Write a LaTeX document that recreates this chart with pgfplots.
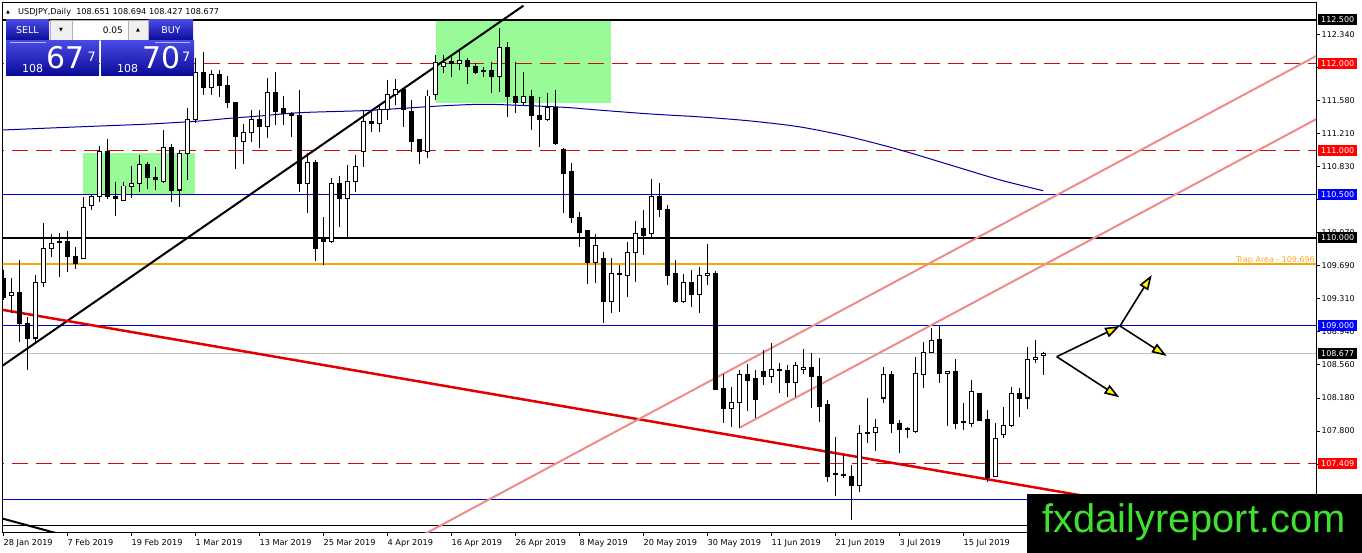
\documentclass[border=0pt]{standalone}
\usepackage{pgfplots}
\pgfplotsset{compat=1.18}
\usepackage{pgfplotstable}
\usetikzlibrary{arrows.meta}
\usepackage{fontspec}
\setmainfont{DejaVu Sans}
\newfontfamily\libsans{Liberation Sans}
\definecolor{mtblue}{RGB}{0,0,205}
\definecolor{mablue}{RGB}{0,0,160}
\definecolor{mtorange}{RGB}{255,165,0}
\definecolor{mtgreen}{RGB}{152,251,152}
\definecolor{mtpink}{RGB}{238,140,140}
\definecolor{mtred}{RGB}{225,0,0}
\definecolor{mtdash}{RGB}{215,10,10}
\definecolor{mtgray}{RGB}{192,192,192}
\definecolor{boxred}{RGB}{255,0,0}
\definecolor{boxblue}{RGB}{0,0,255}
\definecolor{pbtop}{RGB}{72,72,228}
\definecolor{pbbot}{RGB}{10,10,150}
\definecolor{wmgreen}{RGB}{64,224,48}
\definecolor{traporange}{RGB}{245,170,40}

\pgfplotstableread{
i o h l c
0 109.541 109.633 109.289 109.323
1 109.335 109.541 109.140 109.380
2 109.380 109.747 108.807 109.025
3 109.025 109.094 108.486 108.853
4 108.853 109.575 108.807 109.484
5 109.484 110.172 109.438 109.874
6 109.874 110.046 109.782 109.942
7 109.950 110.057 109.552 109.958
8 109.965 110.080 109.610 109.782
9 109.793 109.896 109.644 109.713
10 109.770 110.470 109.759 110.355
11 110.367 110.493 110.321 110.470
12 110.470 111.055 110.413 110.986
13 110.986 111.135 110.447 110.470
14 110.470 110.642 110.252 110.447
15 110.435 110.642 110.424 110.596
16 110.585 110.825 110.458 110.619
17 110.619 110.952 110.527 110.837
18 110.837 110.871 110.562 110.688
19 110.688 110.814 110.550 110.665
20 110.642 111.238 110.630 111.043
21 111.043 111.078 110.413 110.550
22 110.550 111.009 110.355 110.974
23 110.974 111.491 110.665 111.364
24 111.364 112.064 111.318 111.892
25 111.892 112.133 111.640 111.731
26 111.731 111.926 111.640 111.869
27 111.869 111.926 111.617 111.754
28 111.754 111.857 111.491 111.548
29 111.548 111.559 110.791 111.158
30 111.101 111.307 110.848 111.215
31 111.215 111.468 111.101 111.353
32 111.353 111.468 111.032 111.273
33 111.273 111.835 111.146 111.663
34 111.663 111.903 111.296 111.456
35 111.479 111.628 111.296 111.433
36 111.433 111.445 111.158 111.399
37 111.410 111.697 110.527 110.630
38 110.630 110.974 110.286 110.860
39 110.860 110.894 109.736 109.885
40 110.000 110.240 109.690 109.965
41 109.965 110.688 109.942 110.630
42 110.619 110.711 110.126 110.458
43 110.458 110.837 110.000 110.642
44 110.642 110.952 110.527 110.825
45 110.997 111.456 110.814 111.341
46 111.330 111.468 111.215 111.307
47 111.307 111.525 111.215 111.468
48 111.468 111.812 111.353 111.640
49 111.640 111.823 111.525 111.697
50 111.697 111.720 111.273 111.468
51 111.456 111.582 110.986 111.112
52 111.124 111.130 110.848 110.997
53 110.997 111.697 110.917 111.628
54 111.640 112.098 111.582 112.007
55 111.961 112.098 111.892 112.007
56 112.018 112.098 111.846 111.995
57 111.995 112.167 111.926 112.030
58 112.030 112.064 111.766 111.972
59 111.972 112.007 111.880 111.892
60 111.915 111.961 111.846 111.908
61 111.926 112.018 111.663 111.846
62 111.846 112.408 111.674 112.179
63 112.179 112.247 111.387 111.617
64 111.617 112.018 111.433 111.548
65 111.548 111.903 111.525 111.617
66 111.617 111.697 111.238 111.399
67 111.410 111.617 111.043 111.364
68 111.364 111.663 111.341 111.491
69 111.491 111.697 111.066 111.078
70 111.020 111.026 110.286 110.745
71 110.757 110.860 110.172 110.240
72 110.240 110.298 109.896 110.068
73 110.080 110.091 109.472 109.724
74 109.724 110.046 109.484 109.908
75 109.759 109.839 109.025 109.277
76 109.277 109.770 109.140 109.587
77 109.590 109.690 109.151 109.583
78 109.564 109.954 109.323 109.828
79 109.828 110.195 109.495 110.046
80 110.114 110.321 109.805 110.034
81 110.046 110.676 110.011 110.481
82 110.481 110.630 110.240 110.332
83 110.332 110.378 109.461 109.575
84 109.587 109.747 109.254 109.266
85 109.266 109.587 109.254 109.484
86 109.495 109.633 109.208 109.357
87 109.357 109.667 109.140 109.564
88 109.564 109.931 109.461 109.598
89 109.598 109.621 108.257 108.268
90 108.279 108.440 107.878 108.039
91 108.039 108.291 107.832 108.119
92 108.119 108.486 107.821 108.440
93 108.440 108.555 108.016 108.371
94 108.383 108.486 107.935 108.153
95 108.474 108.715 108.314 108.417
96 108.417 108.796 108.337 108.497
97 108.490 108.566 108.222 108.482
98 108.486 108.543 108.176 108.348
99 108.348 108.578 108.176 108.543
100 108.497 108.727 108.440 108.520
101 108.520 108.681 108.050 108.417
102 108.417 108.624 107.890 108.073
103 108.085 108.142 107.201 107.270
104 107.296 107.718 107.041 107.290
105 107.285 107.511 107.247 107.278
106 107.270 107.396 106.766 107.156
107 107.156 107.855 107.087 107.763
108 107.766 108.165 107.649 107.758
109 107.775 107.924 107.557 107.832
110 108.165 108.520 108.107 108.429
111 108.429 108.474 107.763 107.878
112 107.878 107.912 107.534 107.809
113 107.812 107.832 107.706 107.806
114 107.786 108.635 107.763 108.451
115 108.440 108.807 108.279 108.692
116 108.692 108.968 108.681 108.830
117 108.841 108.990 108.337 108.451
118 108.451 108.480 107.844 108.474
119 108.474 108.612 107.809 107.878
120 107.893 108.107 107.798 107.886
121 107.878 108.371 107.832 108.234
122 108.222 108.228 107.905 107.912
123 107.924 108.027 107.201 107.259
124 107.270 107.878 107.265 107.695
125 107.752 108.062 107.706 107.844
126 107.844 108.291 107.832 108.211
127 108.211 108.279 107.947 108.165
128 108.165 108.750 108.039 108.612
129 108.612 108.830 108.566 108.635
130 108.651 108.694 108.427 108.677
}\candles

\begin{document}
\begin{tikzpicture}[x=1bp,y=1bp]
\path[use as bounding box] (0,0) rectangle (1362,553);
\begin{axis}[
  at={(2.7bp,20.7bp)}, anchor=south west,
  width=1313.3bp, height=529.6bp, scale only axis,
  xmin=-0.1, xmax=164.065, ymin=106.625, ymax=112.698,
  axis line style={black, line width=1bp},
  clip mode=individual,
  tick align=outside, major tick length=3.5bp,
  every tick/.style={black, line width=0.8bp},
  xtick pos=bottom, ytick pos=right, yticklabel pos=right,
  xtick={0,8,...,120},
  xticklabels={28 Jan 2019,7 Feb 2019,19 Feb 2019,1 Mar 2019,13 Mar 2019,25 Mar 2019,4 Apr 2019,16 Apr 2019,26 Apr 2019,8 May 2019,20 May 2019,30 May 2019,11 Jun 2019,21 Jun 2019,3 Jul 2019,15 Jul 2019},
  ytick={112.336,111.956,111.578,111.198,110.820,110.440,110.061,109.682,109.303,108.924,108.545,108.166,107.787,107.407,107.029},
  yticklabels={112.340,,111.580,111.210,110.830,,110.070,109.690,109.310,108.940,108.560,108.180,107.800,107.420,},
  x tick label style={anchor=north west, inner sep=0pt, yshift=-3bp, font=\fontsize{8.2}{9}\selectfont},
  y tick label style={anchor=west, inner sep=0pt, xshift=2bp, font=\fontsize{8}{9}\selectfont},
]
% green zones
\addplot[fill=mtgreen, draw=none, forget plot] coordinates {(10,110.505) (23.9,110.505) (23.9,110.971) (10,110.971)} -- cycle;
\addplot[fill=mtgreen, draw=none, forget plot] coordinates {(54,111.545) (75.96,111.545) (75.96,112.49) (54,112.49)} -- cycle;
% horizontal levels
\addplot[black, line width=2bp, forget plot] coordinates {(-2,112.5) (170,112.5)};
\addplot[mtdash, line width=1.1bp, dash pattern=on 16bp off 8bp, forget plot] coordinates {(-2,112.0011) (170,112.0011)};
\addplot[mtdash, line width=1.1bp, dash pattern=on 16bp off 8bp, forget plot] coordinates {(-2,111.0034) (170,111.0034)};
\addplot[mtblue, line width=1bp, forget plot] coordinates {(-2,110.4989) (170,110.4989)};
\addplot[black, line width=2bp, forget plot] coordinates {(-2,110.0) (170,110.0)};
\addplot[mtorange, line width=2bp, forget plot] coordinates {(-2,109.696) (170,109.696)};
\addplot[mtblue, line width=1bp, forget plot] coordinates {(-2,108.9966) (170,108.9966)};
\addplot[mtgray, line width=1bp, forget plot] coordinates {(-2,108.6759) (170,108.6759)};
\addplot[mtdash, line width=1.1bp, dash pattern=on 16bp off 8bp, forget plot] coordinates {(-2,107.4136) (170,107.4136)};
\addplot[mtblue, line width=1bp, forget plot] coordinates {(-2,107.0011) (170,107.0011)};
\addplot[black, line width=1bp, forget plot] coordinates {(-2,106.703) (170,106.703)};
% trend lines
\addplot[black, line width=2bp, forget plot] coordinates {(-1,108.480) (65,112.664)};
\addplot[black, line width=2bp, forget plot] coordinates {(-1,106.804) (10,106.531)};
\addplot[mtred, line width=2.5bp, forget plot] coordinates {(-1,109.190) (137,107.012)};
\addplot[mtpink, line width=2bp, forget plot] coordinates {(52,106.574) (165,112.132)};
\addplot[mtpink, line width=2bp, forget plot] coordinates {(92,107.824) (165,111.407)};
% moving average
\addplot[mablue, line width=1bp, smooth, forget plot] coordinates {
(-0.1,111.238) (5.84,111.261) (12.09,111.284) (18.34,111.307) (24.59,111.342)
(28.34,111.373) (32.09,111.399) (37.09,111.437) (44.96,111.460) (49.59,111.485)
(54.59,111.514) (59.59,111.533) (63.34,111.525) (69.96,111.499) (74.21,111.468)
(80.84,111.422) (87.09,111.388) (93.34,111.342) (99.59,111.273) (105.84,111.158)
(112.09,111.009) (118.34,110.837) (124.59,110.665) (129.96,110.542)};
% candles: wicks
\addplot[draw=none, forget plot, error bars/.cd, y dir=minus, y explicit, error mark=none,
  error bar style={draw=black, solid, line width=1bp}]
  table[x=i, y=h, y error minus expr={\thisrow{h}-\thisrow{l}}] {\candles};
% bodies (outline)
\addplot[draw=none, forget plot, error bars/.cd, y dir=minus, y explicit, error mark=none,
  error bar style={draw=black, solid, line width=5bp}]
  table[x=i, y expr={max(\thisrow{o},\thisrow{c})+0.0057}, y error minus expr={abs(\thisrow{o}-\thisrow{c})+0.0115}] {\candles};
% bodies (white interior of bull candles)
\addplot[draw=none, forget plot, error bars/.cd, y dir=minus, y explicit, error mark=none,
  error bar style={draw=white, solid, line width=3bp}]
  table[x=i, y expr={max(\thisrow{o},\thisrow{c})-0.0057}, y error minus expr={max(\thisrow{c}-\thisrow{o}-0.0115,0)}] {\candles};
\end{axis}

% trap area label
\node[anchor=base east, inner sep=0pt, text=traporange, font=\fontsize{8}{9}\selectfont] at (1315,290.5) {Trap Area - 109.696};

% arrows
\begin{scope}[line width=1.6bp, draw=black]
\draw[-{Triangle[length=15bp,width=10bp,fill=yellow]}] (1056.7,196.3) -- (1120,227);
\draw[-{Triangle[length=15bp,width=10bp,fill=yellow]}] (1120,227) -- (1151.7,278);
\draw[-{Triangle[length=15bp,width=10bp,fill=yellow]}] (1120,227) -- (1166.7,197);
\draw[-{Triangle[length=15bp,width=10bp,fill=yellow]}] (1056.7,196.3) -- (1119.3,155.7);
\end{scope}

% right price boxes
\tikzset{pbox/.style={anchor=west, inner sep=0pt, minimum height=11bp, minimum width=39bp, text=white, font=\fontsize{8}{9}\selectfont}}
\node[pbox, fill=black] at (1318,533) {112.500};
\node[pbox, fill=boxred] at (1318,489.4) {112.000};
\node[pbox, fill=boxred] at (1318,402.2) {111.000};
\node[pbox, fill=boxblue] at (1318,358.6) {110.500};
\node[pbox, fill=black] at (1318,315) {110.000};
\node[pbox, fill=boxblue] at (1318,227.8) {109.000};
\node[pbox, fill=black] at (1318,199.6) {108.677};
\node[pbox, fill=boxred] at (1318,89.1) {107.409};

% watermark
\fill[black] (1027,0) rectangle (1362,59);
\node[anchor=base west, inner sep=0pt, text=wmgreen, font=\libsans\fontsize{40}{40}\selectfont] at (1042,20) {fxdailyreport.com};

% header text
\node[inner sep=0pt, font=\fontsize{5}{6}\selectfont] at (8,541) {▲};
\node[anchor=base west, inner sep=0pt, font=\fontsize{8.2}{9}\selectfont] at (18,538) {USDJPY,Daily\ \ 108.651 108.694 108.427 108.677};

% trading panel
\shade[top color=pbtop, bottom color=pbbot] (6,512) rectangle (49,533);
\node[text=white, inner sep=0pt, font=\fontsize{9.5}{11}\selectfont] at (27.5,522.5) {SELL};
\draw[fill=gray!12, draw=gray!60] (50,512.5) rectangle (72,532.5);
\node[inner sep=0pt, font=\fontsize{5}{6}\selectfont] at (61,522.5) {▼};
\draw[fill=white, draw=gray!60] (72,512.5) rectangle (128,532.5);
\node[anchor=east, inner sep=0pt, font=\fontsize{9}{10}\selectfont] at (123,522.5) {0.05};
\draw[fill=gray!12, draw=gray!60] (128,512.5) rectangle (148,532.5);
\node[inner sep=0pt, font=\fontsize{5}{6}\selectfont] at (138,522.5) {▲};
\shade[top color=pbtop, bottom color=pbbot] (149,512) rectangle (193,533);
\node[text=white, inner sep=0pt, font=\fontsize{9.5}{11}\selectfont] at (171,522.5) {BUY};
\shade[top color=pbtop, bottom color=pbbot] (6,477) rectangle (99,512);
\shade[top color=pbtop, bottom color=pbbot] (101,477) rectangle (194,512);
\draw[white, opacity=0.6, line width=0.6bp] (10,511) -- (46,511);
\draw[white, opacity=0.6, line width=0.6bp] (155,511) -- (190,511);
\node[anchor=base west, inner sep=0pt, text=white, font=\fontsize{11}{12}\selectfont] at (22,480) {108};
\node[anchor=base west, inner sep=0pt, text=white, font=\fontsize{30}{30}\selectfont] at (46,484.5) {67};
\node[anchor=base west, inner sep=0pt, text=white, font=\fontsize{13}{13}\selectfont] at (87.5,491) {7};
\node[anchor=base west, inner sep=0pt, text=white, font=\fontsize{11}{12}\selectfont] at (117,480) {108};
\node[anchor=base west, inner sep=0pt, text=white, font=\fontsize{30}{30}\selectfont] at (142,484.5) {70};
\node[anchor=base west, inner sep=0pt, text=white, font=\fontsize{13}{13}\selectfont] at (182,491) {7};
\end{tikzpicture}
\end{document}
